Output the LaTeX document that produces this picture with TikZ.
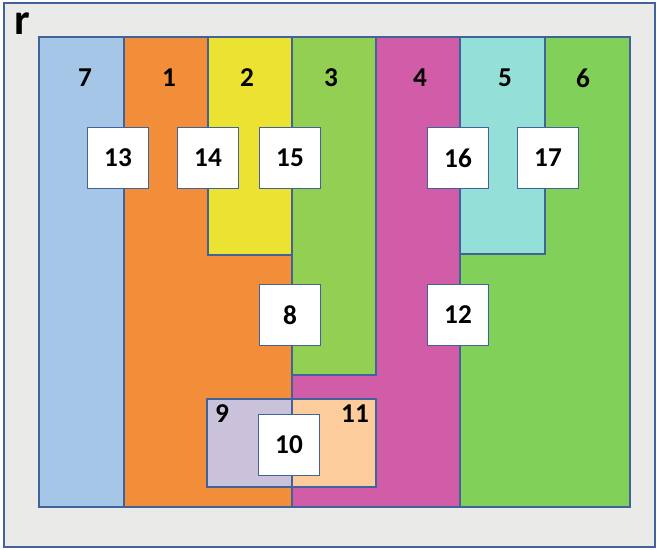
\documentclass[tikz,border=0pt]{standalone}
\usepackage{fontspec}
\setmainfont{Carlito}
\definecolor{edge}{HTML}{42639A}
\definecolor{paper}{HTML}{EAEAE8}
\definecolor{cblue}{HTML}{A5C6E7}
\definecolor{corange}{HTML}{F28D3A}
\definecolor{cyellow}{HTML}{EBE231}
\definecolor{cgreen}{HTML}{93CF52}
\definecolor{cmagenta}{HTML}{D15CA8}
\definecolor{ccyan}{HTML}{94E0D9}
\definecolor{cgrass}{HTML}{81D05A}
\definecolor{clavender}{HTML}{CAC1DA}
\definecolor{cpeach}{HTML}{FCCC9C}
\begin{document}
\begin{tikzpicture}[x=0.02cm, y=-0.02cm, line join=miter,
    region/.style={draw=edge, line width=1.1pt},
    numbox/.style={draw=edge, line width=1.1pt, fill=white, minimum width=1.22cm, minimum height=1.22cm, inner sep=0pt, font=\bfseries\fontsize{15.5}{17}\selectfont},
    lbl/.style={font=\bfseries\fontsize{15.5}{17}\selectfont}]
  \useasboundingbox (0,0) rectangle (658,550);
  \draw[region, fill=paper] (4,3) rectangle (655,547);
  \node[font=\bfseries\fontsize{25}{27}\selectfont] (r) at (22,24) {r};
  % columns
  \draw[region, fill=cblue] (39,37) rectangle (124,507);
  \draw[region, fill=corange] (124,37) -- (208,37) -- (208,255) -- (292,255) -- (292,507) -- (124,507) -- cycle;
  \draw[region, fill=cyellow] (208,37) rectangle (292,255);
  \draw[region, fill=cgreen] (292,37) rectangle (376,375);
  \draw[region, fill=cmagenta] (376,37) -- (460,37) -- (460,507) -- (292,507) -- (292,375) -- (376,375) -- cycle;
  \draw[region, fill=ccyan] (460,37) rectangle (545,254);
  \draw[region, fill=cgrass] (545,37) -- (630,37) -- (630,507) -- (460,507) -- (460,254) -- (545,254) -- cycle;
  \draw[region, fill=clavender] (207,399) rectangle (292,487);
  \draw[region, fill=cpeach] (292,399) rectangle (376,487);
  % region labels
  \node[lbl] (n7) at (85,78) {7};
  \node[lbl] (n1) at (169,78) {1};
  \node[lbl] (n2) at (247,78) {2};
  \node[lbl] (n3) at (331,78) {3};
  \node[lbl] (n4) at (420,78) {4};
  \node[lbl] (n5) at (505,78) {5};
  \node[lbl] (n6) at (583,78) {6};
  \node[lbl] (n9) at (222,414) {9};
  \node[lbl] (n11) at (355,414) {11};
  % boxes
  \node[numbox] (b13) at (118,158) {13};
  \node[numbox] (b14) at (208,158) {14};
  \node[numbox] (b15) at (290,158) {15};
  \node[numbox] (b16) at (458,158) {16};
  \node[numbox] (b17) at (548,158) {17};
  \node[numbox] (b8) at (290,315) {8};
  \node[numbox] (b12) at (458,315) {12};
  \node[numbox] (b10) at (289,445) {10};
\end{tikzpicture}
\end{document}
